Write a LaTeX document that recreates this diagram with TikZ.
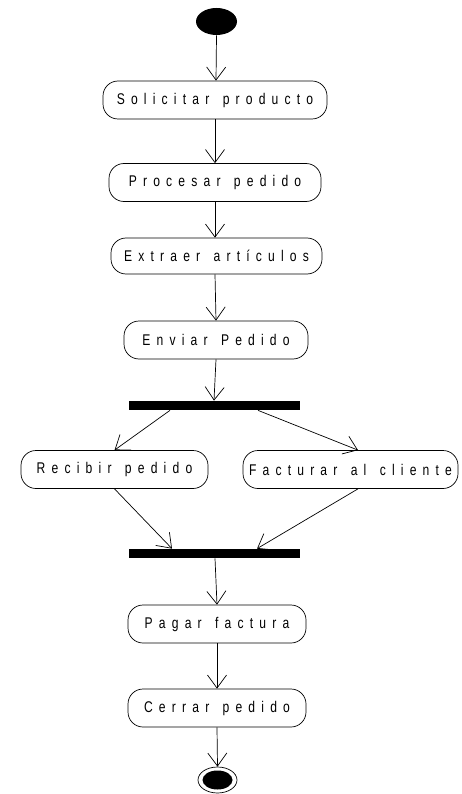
\documentclass[tikz,border=0pt]{standalone}
\usepackage{fontspec}
\setsansfont{Liberation Sans}[FakeStretch=0.78, LetterSpace=40, WordSpace=1.4]
\usetikzlibrary{arrows.meta,shapes.geometric}
\begin{document}
\begin{tikzpicture}[x=1pt,y=-1pt,
  line width=0.7pt,
  act/.style={draw, rounded corners=15pt, minimum height=38pt, inner sep=0pt,
    font=\sffamily\fontsize{15.5}{16}\selectfont, fill=white},
  bar/.style={fill=black, inner sep=0pt, minimum height=9pt},
  flow/.style={-{Straight Barb[length=13pt,width=19pt,line width=0.7pt]}}]
\useasboundingbox (0,0) rectangle (461,794);

% initial and final states
\node[ellipse, fill=black, inner sep=0pt, minimum width=41pt, minimum height=27pt] (start) at (216.5,21.5) {};
\node[ellipse, draw, fill=white, inner sep=0pt, minimum width=39pt, minimum height=26pt] (stop) at (217.5,780) {};
\fill (stop.center) ellipse (15pt and 9.5pt);

% activities
\node[act, minimum width=224pt] (s1) at (215,100) {Solicitar producto};
\node[act, minimum width=212pt] (s2) at (215,182.5) {Procesar pedido};
\node[act, minimum width=211pt, minimum height=36pt] (s3) at (216.5,256) {Extraer artículos};
\node[act, minimum width=184pt] (s4) at (216,340) {Enviar Pedido};
\node[act, minimum width=187pt] (s5) at (114.5,469.5) {Recibir pedido};
\node[act, minimum width=215pt] (s6) at (350.5,469.5) {Facturar al cliente};
\node[act, minimum width=178pt] (s7) at (217,624) {Pagar factura};
\node[act, minimum width=178pt] (s8) at (217,708) {Cerrar pedido};

% fork and join bars
\node[bar, minimum width=171pt] (fork) at (214.5,405.5) {};
\node[bar, minimum width=171pt] (join) at (214.5,553.5) {};

% transitions
\draw[flow] (start.south) -- ([xshift=1pt]s1.north);
\draw[flow] (s1.south) -- (s2.north);
\draw[flow] (s2.south) -- ([xshift=-1.5pt]s3.north);
\draw[flow] ([xshift=-1.5pt]s3.south) -- (s4.north);
\draw[flow] (s4.south) -- ([xshift=-0.5pt]fork.north);
\draw[flow] ([xshift=-44.5pt]fork.south) -- (s5.north);
\draw[flow] ([xshift=43.5pt]fork.south) -- ([xshift=7.5pt]s6.north);
\draw[flow] (s5.south) -- ([xshift=-42.5pt]join.north);
\draw[flow] ([xshift=7.5pt]s6.south) -- ([xshift=42.5pt]join.north);
\draw[flow] ([xshift=0.5pt]join.south) -- (s7.north);
\draw[flow] (s7.south) -- (s8.north);
\draw[flow] (s8.south) -- (stop.north);
\end{tikzpicture}
\end{document}
